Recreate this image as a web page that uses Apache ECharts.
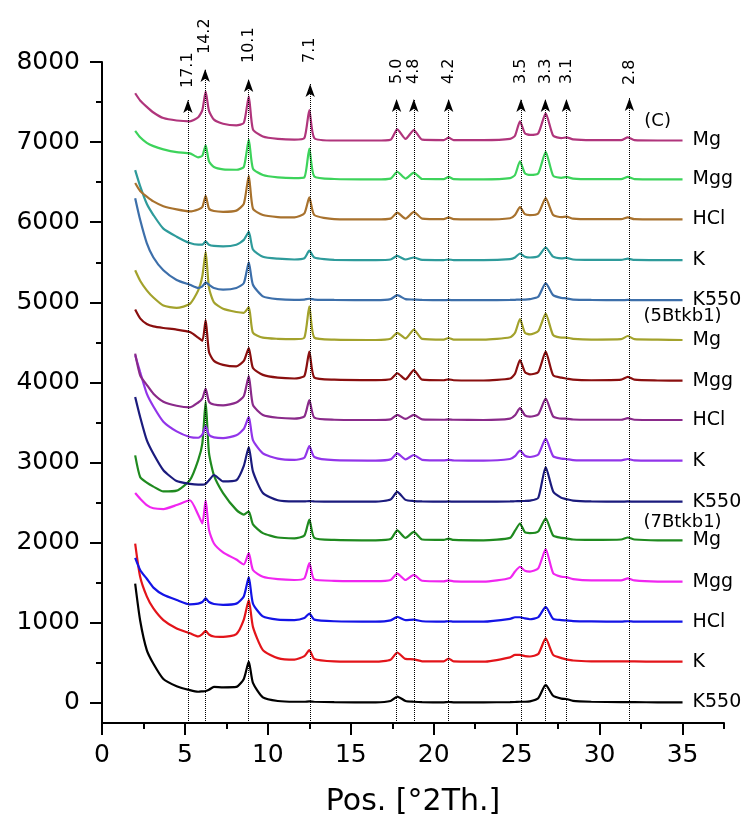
<!DOCTYPE html>
<html>
<head>
<meta charset="utf-8">
<script src="https://cdn.jsdelivr.net/npm/echarts@6.0.0/dist/echarts.min.js"></script>
<style>
html, body { margin: 0; padding: 0; background: #fff; }
#chart { width: 744px; height: 819px; }
</style>
</head>
<body>
<div id="chart"></div>
<script>
// 2theta grid shared by all patterns
var twoTheta = [2.0, 2.3, 2.7, 3.1, 3.7, 4.5, 5.3, 5.8, 6.05, 6.25, 6.45, 6.75, 7.3, 8.1, 8.55, 8.85, 9.1, 9.7, 10.6, 11.6, 12.2, 12.5, 12.8, 14.0, 16.5, 17.4, 17.8, 18.3, 18.8, 19.3, 20.6, 20.9, 21.2, 23.0, 24.6, 24.9, 25.2, 25.5, 25.8, 26.3, 26.75, 27.2, 27.7, 28.0, 28.4, 29.5, 31.3, 31.7, 32.1, 33.5, 35.0];

// (7Btkb1)
var s7K550 = [1490, 1030, 660, 490, 300, 210, 160, 140, 145, 150, 165, 200, 195, 200, 300, 515, 250, 70, 25, 15, 15, 20, 15, 10, 8, 25, 80, 25, 15, 10, 8, 12, 8, 8, 10, 12, 15, 15, 20, 60, 225, 90, 55, 50, 25, 15, 10, 10, 10, 8, 8];
var s7K = [1990, 1575, 1330, 1180, 1035, 930, 870, 830, 860, 900, 855, 830, 825, 860, 1040, 1285, 950, 660, 560, 540, 585, 660, 550, 520, 515, 540, 630, 550, 545, 520, 518, 555, 518, 515, 570, 600, 600, 585, 580, 610, 805, 600, 560, 545, 530, 520, 518, 520, 518, 515, 515];
var s7HCl = [1810, 1660, 1550, 1440, 1350, 1285, 1230, 1240, 1260, 1305, 1260, 1235, 1225, 1240, 1330, 1570, 1240, 1080, 1040, 1035, 1060, 1115, 1040, 1020, 1015, 1030, 1075, 1035, 1040, 1020, 1015, 1020, 1015, 1015, 1050, 1070, 1070, 1055, 1045, 1070, 1200, 1050, 1035, 1030, 1022, 1018, 1015, 1020, 1015, 1015, 1015];
var s7Mgg = [2620, 2550, 2470, 2430, 2420, 2470, 2530, 2350, 2240, 2530, 2160, 1990, 1880, 1790, 1730, 1870, 1660, 1575, 1545, 1535, 1555, 1745, 1540, 1525, 1520, 1535, 1615, 1535, 1600, 1525, 1518, 1530, 1518, 1515, 1560, 1640, 1700, 1650, 1640, 1680, 1920, 1620, 1575, 1570, 1545, 1530, 1530, 1555, 1530, 1515, 1514];
var s7Mg = [3090, 2820, 2750, 2700, 2640, 2650, 2780, 3030, 3240, 3760, 3120, 2840, 2620, 2410, 2350, 2390, 2230, 2120, 2065, 2055, 2090, 2290, 2060, 2035, 2030, 2045, 2155, 2060, 2135, 2040, 2035, 2050, 2035, 2030, 2060, 2150, 2240, 2130, 2120, 2140, 2305, 2090, 2060, 2055, 2040, 2035, 2040, 2065, 2040, 2030, 2030];
// (5Btkb1)
var s5K550 = [3820, 3570, 3280, 3110, 2905, 2770, 2735, 2725, 2725, 2735, 2780, 2845, 2765, 2780, 2960, 3195, 2890, 2620, 2530, 2515, 2515, 2520, 2515, 2512, 2512, 2540, 2635, 2535, 2520, 2515, 2512, 2515, 2512, 2512, 2515, 2518, 2520, 2522, 2525, 2560, 2945, 2640, 2560, 2545, 2525, 2515, 2512, 2515, 2512, 2512, 2512];
var s5K = [4340, 4130, 3860, 3700, 3510, 3390, 3320, 3310, 3350, 3455, 3345, 3315, 3305, 3340, 3420, 3570, 3280, 3115, 3050, 3035, 3060, 3205, 3070, 3030, 3025, 3040, 3115, 3040, 3095, 3035, 3028, 3035, 3028, 3025, 3045, 3080, 3150, 3085, 3070, 3100, 3300, 3080, 3050, 3045, 3032, 3028, 3028, 3045, 3028, 3025, 3024];
var s5HCl = [4360, 4090, 3970, 3860, 3760, 3710, 3690, 3750, 3800, 3925, 3760, 3725, 3715, 3750, 3830, 4080, 3720, 3595, 3560, 3550, 3575, 3780, 3560, 3535, 3532, 3540, 3595, 3545, 3595, 3540, 3535, 3540, 3535, 3532, 3550, 3590, 3680, 3590, 3575, 3600, 3800, 3575, 3550, 3550, 3538, 3535, 3535, 3555, 3535, 3532, 3532];
var s5Mgg = [4910, 4800, 4730, 4700, 4680, 4660, 4630, 4560, 4520, 4780, 4380, 4270, 4220, 4200, 4270, 4430, 4180, 4095, 4060, 4050, 4080, 4385, 4060, 4035, 4030, 4040, 4115, 4040, 4155, 4035, 4028, 4040, 4028, 4025, 4050, 4110, 4280, 4130, 4100, 4130, 4385, 4090, 4060, 4050, 4035, 4028, 4035, 4070, 4035, 4025, 4022];
var s5Mg = [5400, 5270, 5150, 5060, 4960, 4930, 4980, 5150, 5330, 5630, 5180, 5000, 4920, 4880, 4870, 4940, 4620, 4560, 4545, 4540, 4560, 4950, 4560, 4535, 4530, 4545, 4620, 4550, 4660, 4545, 4535, 4555, 4535, 4535, 4565, 4620, 4790, 4620, 4600, 4640, 4860, 4590, 4560, 4560, 4545, 4535, 4540, 4580, 4540, 4535, 4530];
// (C)
var cK550 = [6300, 6030, 5740, 5560, 5400, 5280, 5220, 5180, 5200, 5250, 5220, 5180, 5160, 5180, 5240, 5500, 5220, 5075, 5040, 5030, 5035, 5045, 5035, 5030, 5028, 5040, 5090, 5040, 5035, 5030, 5028, 5030, 5028, 5028, 5030, 5032, 5035, 5035, 5040, 5070, 5240, 5090, 5055, 5050, 5035, 5030, 5028, 5030, 5028, 5028, 5028];
var cK = [6650, 6450, 6230, 6090, 5920, 5820, 5740, 5720, 5720, 5760, 5720, 5705, 5700, 5720, 5780, 5880, 5660, 5570, 5545, 5535, 5550, 5645, 5560, 5530, 5528, 5535, 5580, 5535, 5560, 5530, 5528, 5535, 5528, 5528, 5540, 5560, 5610, 5570, 5560, 5575, 5685, 5570, 5550, 5555, 5535, 5530, 5530, 5545, 5530, 5528, 5528];
var cHCl = [6490, 6390, 6320, 6260, 6200, 6160, 6135, 6160, 6190, 6330, 6170, 6140, 6130, 6145, 6230, 6580, 6170, 6090, 6065, 6060, 6110, 6310, 6090, 6040, 6035, 6045, 6120, 6045, 6130, 6045, 6038, 6060, 6038, 6035, 6050, 6090, 6190, 6100, 6090, 6110, 6300, 6090, 6065, 6070, 6045, 6038, 6038, 6060, 6038, 6035, 6035];
var cMgg = [7140, 7060, 6990, 6950, 6910, 6875, 6860, 6810, 6830, 6960, 6760, 6690, 6660, 6655, 6690, 7030, 6670, 6590, 6560, 6550, 6560, 6920, 6570, 6540, 6535, 6545, 6630, 6545, 6620, 6540, 6538, 6565, 6538, 6535, 6550, 6590, 6760, 6610, 6590, 6610, 6880, 6580, 6555, 6565, 6545, 6538, 6538, 6565, 6538, 6535, 6535];
var cMg = [7610, 7520, 7440, 7370, 7300, 7270, 7260, 7310, 7400, 7630, 7390, 7280, 7230, 7210, 7240, 7570, 7160, 7070, 7040, 7030, 7050, 7400, 7050, 7020, 7020, 7030, 7160, 7040, 7150, 7030, 7025, 7055, 7025, 7025, 7040, 7080, 7260, 7110, 7090, 7110, 7360, 7080, 7050, 7060, 7035, 7025, 7025, 7060, 7025, 7020, 7020];

var patterns = [s7K550, s7K, s7HCl, s7Mgg, s7Mg, s5K550, s5K, s5HCl, s5Mgg, s5Mg, cK550, cK, cHCl, cMgg, cMg];
var patternNames = ['K550', 'K', 'HCl', 'Mgg', 'Mg', 'K550', 'K', 'HCl', 'Mgg', 'Mg', 'K550', 'K', 'HCl', 'Mgg', 'Mg'];
var colors = ['#000000', '#e3141a', '#1414e6', '#f026f0', '#1f8a1f', '#1b1b7d', '#9235ea', '#8a2a8a', '#8a0f0f', '#a3a22c', '#3d6faa', '#2e9b9b', '#a8722e', '#3dd35b', '#b0357c'];

// d-spacing markers (Å) and their positions
var dLabels = ['17.1', '14.2', '10.1', '7.1', '5.0', '4.8', '4.2', '3.5', '3.3', '3.1', '2.8'];
var dPos = [5.18, 6.22, 8.84, 12.55, 17.76, 18.8, 20.9, 25.26, 26.73, 28.0, 31.8];
var arrowEnd = [7525, 7912, 7788, 7725, 7538, 7538, 7538, 7538, 7538, 7538, 7550];
var labelBase = [7675, 8100, 7987, 7987, 7725, 7725, 7725, 7725, 7725, 7725, 7712];

var groupTags = ['(C)', '(5Btkb1)', '(7Btkb1)'];
var groupX = [33.5, 35.0, 35.0];
var groupY = [7255, 4820, 2250];

var xTicks = [0, 5, 10, 15, 20, 25, 30, 35];
var xMinor = [2.5, 7.5, 12.5, 17.5, 22.5, 27.5, 32.5, 37.5];
var yTicks = [0, 1000, 2000, 3000, 4000, 5000, 6000, 7000, 8000];
var yMinor = [500, 1500, 2500, 3500, 4500, 5500, 6500, 7500];

var font = 'DejaVu Sans';
var chart = echarts.init(document.getElementById('chart'));

var series = patterns.map(function (vals, i) {
    return {
        type: 'line',
        name: 'p' + i,
        data: vals.map(function (v, k) { return [twoTheta[k], v]; }),
        showSymbol: false,
        symbol: 'none',
        smooth: 0.2,
        color: colors[i],
        lineStyle: { width: 2.2, color: colors[i] },
        endLabel: {
            show: true,
            formatter: function () { return patternNames[i]; },
            distance: 10,
            color: '#000',
            fontSize: 19,
            fontFamily: font
        },
        z: 3
    };
});

// dotted marker lines with arrow heads
series.push({
    type: 'line',
    data: [],
    markLine: {
        silent: true,
        animation: false,
        label: { show: false },
        lineStyle: { type: 'dotted', color: '#000', width: 1 },
        data: dPos.map(function (x, i) {
            return [
                { coord: [x, -250], symbol: 'none' },
                { coord: [x, arrowEnd[i]], symbol: 'arrow', symbolSize: [7, 13] }
            ];
        })
    },
    z: 2
});

series.push({
    type: 'scatter',
    symbolSize: 0,
    clip: false,
    itemStyle: { opacity: 1 },
    data: groupTags.map(function (t, i) { return { name: t, value: [groupX[i], groupY[i]] }; }),
    label: {
        show: true,
        position: 'inside',
        formatter: '{b}',
        color: '#000',
        fontSize: 18,
        fontFamily: font
    }
});

var axisBase = {
    type: 'value',
    splitLine: { show: false }
};

option = {
    animation: false,
    backgroundColor: '#fff',
    grid: { left: 102, right: 20, top: 62, bottom: 96, outerBoundsMode: 'none' },
    xAxis: [
        Object.assign({}, axisBase, {
            min: 0, max: 37.5,
            name: 'Pos. [°2Th.]',
            nameLocation: 'middle',
            nameGap: 64,
            nameTextStyle: { color: '#000', fontSize: 30, fontFamily: font },
            axisLine: { onZero: false, lineStyle: { color: '#000', width: 2 } },
            axisTick: { customValues: xTicks, length: 12, lineStyle: { color: '#000', width: 2 } },
            axisLabel: { customValues: xTicks, margin: 20, color: '#000', fontSize: 25, fontFamily: font }
        }),
        Object.assign({}, axisBase, {
            min: 0, max: 37.5, position: 'bottom',
            axisLine: { show: false, onZero: false },
            axisTick: { customValues: xMinor, length: 6, lineStyle: { color: '#000', width: 2 } },
            axisLabel: { show: false }
        })
    ],
    yAxis: [
        Object.assign({}, axisBase, {
            min: -250, max: 8000,
            axisLine: { show: true, onZero: false, lineStyle: { color: '#000', width: 2 } },
            axisTick: { show: true, customValues: yTicks, length: 12, lineStyle: { color: '#000', width: 2 } },
            axisLabel: {
                customValues: yTicks, margin: 22, color: '#000', fontSize: 25, fontFamily: font,
                formatter: function (v) { return String(v); }
            }
        }),
        Object.assign({}, axisBase, {
            min: -250, max: 8000, position: 'left', offset: 0,
            axisLine: { show: false, onZero: false },
            axisTick: { show: true, customValues: yMinor, length: 6, lineStyle: { color: '#000', width: 2 } },
            axisLabel: { show: false }
        })
    ],
    series: series
};
chart.setOption(option);

// rotated d-spacing labels, placed through the axes' scales
var dText = dLabels.map(function (t, i) {
    var p = chart.convertToPixel({ gridIndex: 0 }, [dPos[i], labelBase[i]]);
    return {
        type: 'text',
        x: p[0],
        y: p[1],
        rotation: Math.PI / 2,
        silent: true,
        style: {
            text: t,
            fill: '#000',
            font: '16px "DejaVu Sans"',
            textAlign: 'left',
            textVerticalAlign: 'middle',
            align: 'left',
            verticalAlign: 'middle'
        }
    };
});
chart.setOption({ graphic: dText });
</script>
</body>
</html>
